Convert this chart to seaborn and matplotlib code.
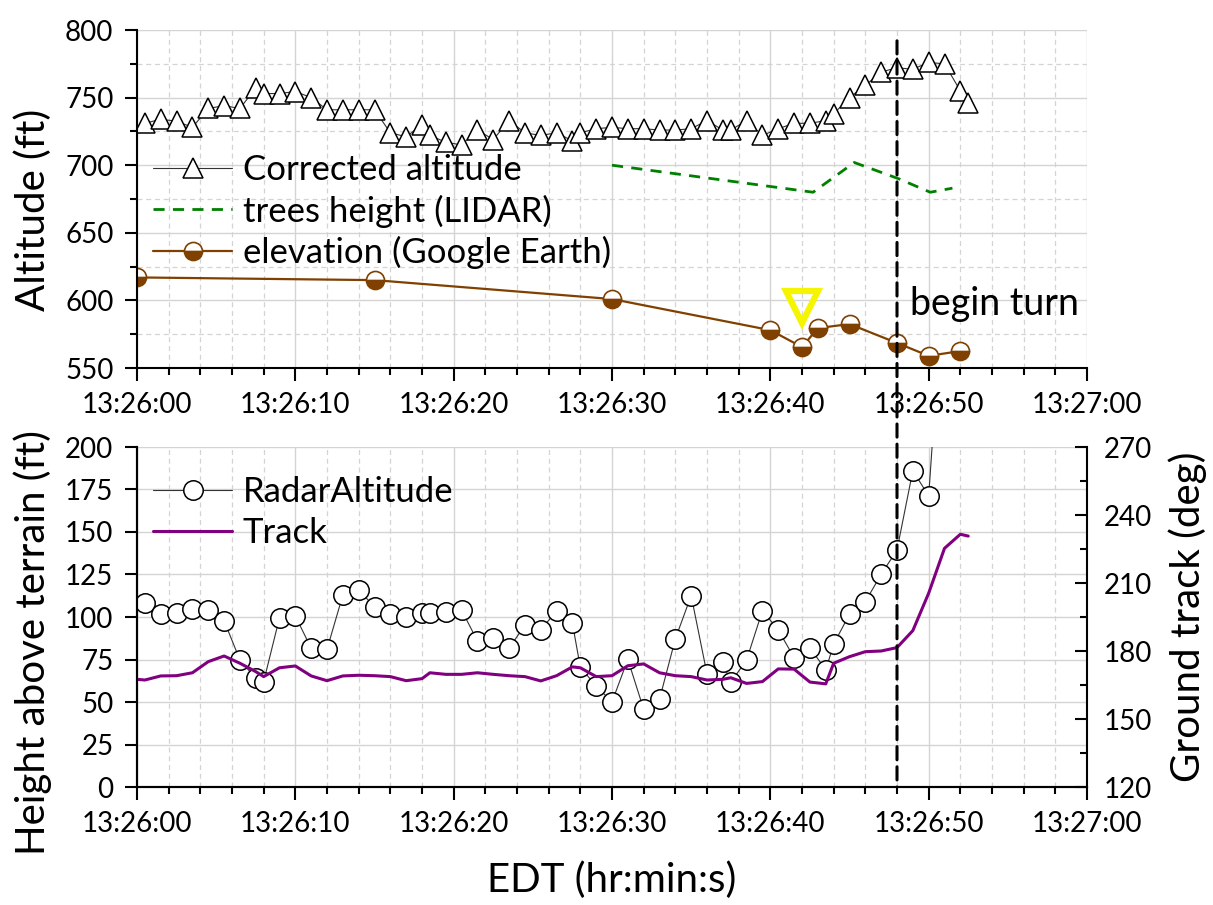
import numpy as np
import pandas as pd
import seaborn as sns
import matplotlib
matplotlib.use("Agg")
import matplotlib.pyplot as plt
from matplotlib.ticker import MultipleLocator, FixedLocator
from matplotlib.patches import ConnectionPatch

# ---------------- data (seconds after 13:26:00) ----------------
t_sec = [0.5, 1.5, 2.5, 3.5, 4.5, 5.5, 6.5, 7.5, 8.0, 9.0, 10.0, 11.0, 12.0, 13.0,
         14.0, 15.0, 16.0, 17.0, 18.0, 18.5, 19.5, 20.5, 21.5, 22.5, 23.5, 24.5,
         25.5, 26.5, 27.5, 28.0, 29.0, 30.0, 31.0, 32.0, 33.0, 34.0, 35.0, 36.0,
         37.0, 37.5, 38.5, 39.5, 40.5, 41.5, 42.5, 43.5, 44.0, 45.0, 46.0, 47.0,
         48.0, 49.0, 50.0, 51.0, 52.0, 52.5]

corrected_alt = [731, 734, 732.5, 728, 742, 744, 742, 757, 753, 753, 754.5, 750,
                 741, 741, 741, 741, 724, 721, 730, 722, 717, 715, 726, 719, 733,
                 724, 722, 724, 718, 724, 727, 728, 727, 727, 726, 726, 727, 733,
                 726, 726, 733, 722, 727, 731, 731, 733, 738, 750, 759, 769, 772,
                 771, 776, 775, 755, 746]

trees_t = [30.0, 42.7, 45.3, 48.1, 50.1, 51.5]
trees_h = [700, 680, 702, 690, 680, 683]

elev_t = [0.0, 15.0, 30.0, 40.0, 42.0, 43.0, 45.0, 48.0, 50.0, 52.0]
elev_v = [617, 615, 601, 578, 565.5, 579.5, 582.5, 568.5, 559, 562.5]

radar_t = t_sec[:54]
radar_alt = [108, 101.6, 102.2, 104.7, 104.1, 97.8, 74.7, 63.9, 62, 99.6, 100.6,
             81.6, 81, 112.9, 115.9, 106, 101.8, 99.8, 102.5, 102.2, 103.1, 104.1,
             85.9, 87.5, 81.6, 95.3, 92.4, 103.7, 96.3, 70.4, 59.4, 50, 75.1, 45.7,
             51.6, 87.1, 112.6, 66.5, 73.3, 61.6, 74.7, 103.7, 92.4, 76.1, 82, 68.8,
             84.1, 101.6, 109, 125.1, 139.4, 186.1, 171.2, 305]

track_t = [0.0] + t_sec
track_deg = [167.5, 167.2, 169, 169.1, 170.4, 175.3, 177.8, 174.6, 170.9, 168.7,
             172.6, 173.4, 169, 166.9, 169, 169.3, 169.1, 168.7, 166.9, 167.8,
             170.4, 169.7, 169.7, 170.4, 169.7, 169.1, 168.7, 166.8, 169.1, 173,
             172.6, 168.7, 169.1, 173.5, 174.3, 170.4, 169.1, 168.7, 167.2, 167.5,
             168.2, 165.7, 166.5, 172.1, 172, 166.3, 165.5, 174.6, 177.5, 179.7,
             180, 181.5, 189, 205.5, 225.3, 231.5, 230.7]

marker_t = [42.0]
marker_v = [595]

turn_t = 48.0
x_ticks = [0, 10, 20, 30, 40, 50, 60]
x_tick_labels = ["13:26:00", "13:26:10", "13:26:20", "13:26:30",
                 "13:26:40", "13:26:50", "13:27:00"]

# ---------------- style ----------------
sns.set_theme(style="ticks")
plt.rcParams['font.family'] = ['Lato', 'DejaVu Sans']
plt.rcParams['axes.linewidth'] = 1.5
plt.rcParams['text.color'] = 'black'
plt.rcParams['axes.labelcolor'] = 'black'
plt.rcParams['xtick.color'] = 'black'
plt.rcParams['ytick.color'] = 'black'
plt.rcParams['axes.edgecolor'] = 'black'

FS_TICK = 20
FS_LEG = 25
FS_LAB = 29

fig = plt.figure(figsize=(12.13, 9.05), dpi=100)
ax1 = fig.add_axes([137/1213, 1-368/905, 950/1213, 338/905])
ax2 = fig.add_axes([137/1213, 1-787/905, 950/1213, 340/905])
ax2r = ax2.twinx()

GRID = '#d4d4d4'

def style_axis(ax):
    ax.set_xlim(0, 60)
    ax.xaxis.set_major_locator(FixedLocator(x_ticks))
    ax.set_xticklabels(x_tick_labels)
    ax.xaxis.set_minor_locator(MultipleLocator(2))
    ax.spines['top'].set_visible(False)
    ax.spines['right'].set_visible(False)
    ax.tick_params(which='major', direction='out', length=9, width=1.5,
                   labelsize=FS_TICK, colors='black', pad=8)
    ax.tick_params(which='minor', direction='out', length=5, width=1.5)
    ax.grid(which='major', color=GRID, lw=1.0, ls='-')
    ax.grid(which='minor', axis='x', color=GRID, lw=0.9, ls=(0, (4, 3)))
    ax.set_axisbelow(True)

# ---------------- top panel ----------------
style_axis(ax1)
ax1.set_ylim(550, 800)
ax1.yaxis.set_major_locator(MultipleLocator(50))
ax1.yaxis.set_minor_locator(MultipleLocator(25))
ax1.grid(which='minor', axis='y', color=GRID, lw=0.9, ls=(0, (4, 3)))

sns.lineplot(x=t_sec, y=corrected_alt, ax=ax1, color='#333333', lw=0.8,
             marker='^', markersize=15, markerfacecolor='white',
             markeredgecolor='black', markeredgewidth=1.1, sort=False,
             estimator=None, label='Corrected altitude')
sns.lineplot(x=trees_t, y=trees_h, ax=ax1, color='#008000', lw=2.0,
             ls=(0, (4, 3)), sort=False, estimator=None,
             label='trees height (LIDAR)')
sns.lineplot(x=elev_t, y=elev_v, ax=ax1, color='#804000', lw=1.6,
             marker='o', markersize=13, fillstyle='bottom',
             markerfacecolor='#804000', markerfacecoloralt='white',
             markeredgecolor='#804000', markeredgewidth=1.2, sort=False,
             estimator=None, label='elevation (Google Earth)')
ax1.plot(marker_t, marker_v, ls='none', marker='v', markersize=23,
         markerfacecolor='none', markeredgecolor='#f5f500',
         markeredgewidth=4.5, zorder=5)
ax1.text(turn_t + 0.8, 597, 'begin turn', fontsize=27, ha='left', va='center')
ax1.set_ylabel('Altitude (ft)', fontsize=FS_LAB)
ax1.yaxis.set_label_coords((52 - 137) / 950, 0.467)
ax1.set_xlabel('')
ax1.legend(loc='upper left', bbox_to_anchor=(0.0, 0.68), frameon=False,
           fontsize=FS_LEG, handlelength=2.3, labelspacing=0.25,
           borderaxespad=0.05, handletextpad=0.3)

# ---------------- bottom panel ----------------
style_axis(ax2)
ax2.set_ylim(0, 200)
ax2.yaxis.set_major_locator(MultipleLocator(25))

sns.lineplot(x=radar_t, y=radar_alt, ax=ax2, color='#333333', lw=0.8,
             marker='o', markersize=14, markerfacecolor='white',
             markeredgecolor='black', markeredgewidth=1.1, sort=False,
             estimator=None, label='RadarAltitude', legend=False)
sns.lineplot(x=track_t, y=track_deg, ax=ax2r, color='#800080', lw=2.2,
             sort=False, estimator=None, label='Track', legend=False)
ax2r.set_ylim(120, 270)
ax2r.yaxis.set_major_locator(MultipleLocator(30))
ax2r.yaxis.set_minor_locator(MultipleLocator(15))
ax2r.spines['top'].set_visible(False)
ax2r.spines['right'].set_visible(True)
ax2r.spines['right'].set_linewidth(1.5)
ax2r.tick_params(which='major', direction='in', length=9, width=1.5,
                 labelsize=FS_TICK, pad=12, colors='black')
ax2r.tick_params(which='minor', direction='in', length=5, width=1.5)
ax2r.grid(False)
ax2r.set_ylabel('Ground track (deg)', fontsize=FS_LAB)
ax2r.yaxis.set_label_coords((1168 - 137) / 950, 0.5)

ax2.set_ylabel('Height above terrain (ft)', fontsize=FS_LAB)
ax2.yaxis.set_label_coords((52 - 137) / 950, 0.426)
ax2.set_xlabel('EDT (hr:min:s)', fontsize=FS_LAB, labelpad=18)

h1, l1 = ax2.get_legend_handles_labels()
h2, l2 = ax2r.get_legend_handles_labels()
ax2r.legend(h1 + h2, l1 + l2, loc='upper left', bbox_to_anchor=(0.0, 0.96),
            frameon=False, fontsize=FS_LEG, handlelength=2.3,
            labelspacing=0.25, borderaxespad=0.05, handletextpad=0.3)

# ---------------- begin-turn vertical line ----------------
con = ConnectionPatch(xyA=(turn_t, 792), coordsA=ax1.transData,
                      xyB=(turn_t, 0), coordsB=ax2.transData,
                      color='black', lw=2.2, linestyle=(0, (4.3, 2.3)),
                      zorder=10)
fig.add_artist(con)

fig.savefig('out.png', dpi=100)
